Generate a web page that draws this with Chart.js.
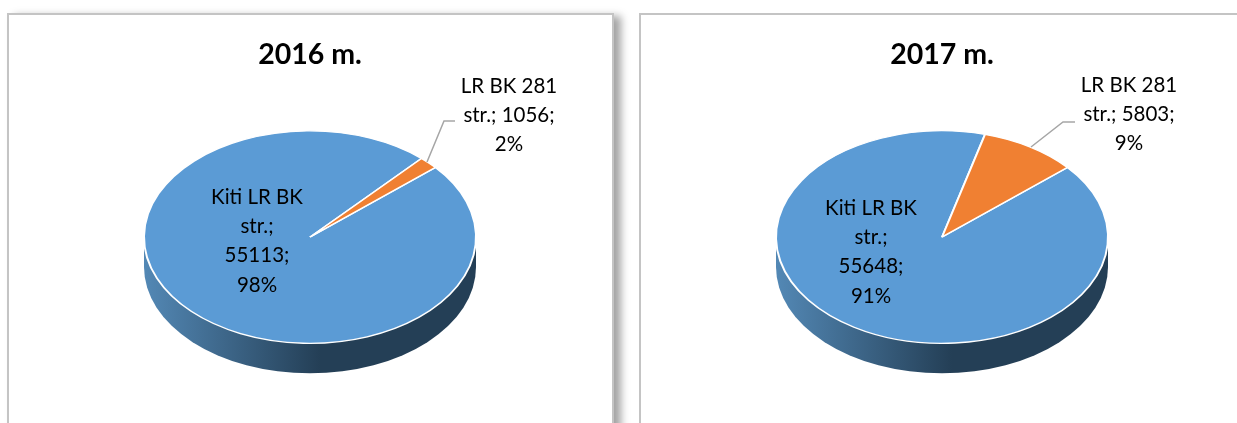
<!DOCTYPE html>
<html>
<head>
<meta charset="utf-8">
<title>LR BK 2016 - 2017</title>
<script src="https://cdn.jsdelivr.net/npm/chart.js@4/dist/chart.umd.min.js"></script>
<style>
    html, body { margin: 0; padding: 0; background: #fff; overflow: hidden; width: 1237px; height: 423px; }
    .panel { position: absolute; top: 13px; height: 460px; background: #fff; border: 2px solid #c4c4c4; box-sizing: border-box; }
    #panel2016 { left: 7px; width: 607px; box-shadow: 7px 3px 8px rgba(0, 0, 0, 0.36); }
    #panel2017 { left: 639px; width: 700px; }
    canvas { position: absolute; top: 0; }
    #chart2016 { left: 0; }
    #chart2017 { left: 620px; }
</style>
</head>
<body>
<div class="panel" id="panel2016"></div>
<div class="panel" id="panel2017"></div>
<canvas id="chart2016" width="620" height="423"></canvas>
<canvas id="chart2017" width="644" height="423"></canvas>
<script>
// Chart data
const categories = ['Kiti LR BK str.', 'LR BK 281 str.'];
const values2016 = [55113, 1056];
const values2017 = [55648, 5803];
const labels2016 = [['Kiti LR BK', 'str.;', '55113;', '98%'], ['LR BK 281', 'str.; 1056;', '2%']];
const labels2017 = [['Kiti LR BK', 'str.;', '55648;', '91%'], ['LR BK 281', 'str.; 5803;', '9%']];
const colors = ['#5b9bd5', '#f08032'];

const FONT = 'Lato, "Open Sans", sans-serif';
const TILT = 0.64;   // vertical squash of the pie
const DEPTH = 30;    // side wall height

// Squashes the arcs, draws the side wall, the data labels and leader line
const pie3d = {
    id: 'pie3d',
    beforeDatasetsDraw(chart) {
        const ctx = chart.ctx;
        const arc = chart.getDatasetMeta(0).data[0];
        const r = arc.outerRadius;
        const ry = r * TILT;

        let grad = ctx.createLinearGradient(arc.x - r, 0, arc.x + r, 0);
        grad.addColorStop(0, '#5388b5');
        grad.addColorStop(0.53, '#243f56');
        grad.addColorStop(1, '#243f56');

        ctx.save();
        ctx.beginPath();
        ctx.moveTo(arc.x - r, arc.y);
        ctx.lineTo(arc.x - r, arc.y + DEPTH);
        ctx.ellipse(arc.x, arc.y + DEPTH, r, ry, 0, Math.PI, 0, true);
        ctx.lineTo(arc.x + r, arc.y);
        ctx.closePath();
        ctx.fillStyle = grad;
        ctx.fill();
        ctx.restore();

        ctx.save();
        ctx.translate(arc.x, arc.y);
        ctx.scale(1, TILT);
        ctx.translate(-arc.x, -arc.y);
    },
    afterDatasetsDraw(chart, args, opts) {
        const ctx = chart.ctx;
        ctx.restore();

        ctx.save();
        ctx.strokeStyle = '#a6a6a6';
        ctx.lineWidth = 1.5;
        ctx.beginPath();
        opts.leader.forEach((p, i) => i ? ctx.lineTo(p[0], p[1]) : ctx.moveTo(p[0], p[1]));
        ctx.stroke();

        ctx.fillStyle = '#000';
        ctx.font = '20.5px ' + FONT;
        ctx.textAlign = 'center';
        ctx.textBaseline = 'middle';
        opts.lines.forEach((lines, i) => {
            const pos = opts.positions[i];
            lines.forEach((line, j) => ctx.fillText(line, pos[0], pos[1] + j * 29.4));
        });
        ctx.restore();
    }
};

// Builds one of the two pies
function crearPie(id, titulo, values, lines, positions, leader) {
    new Chart(document.getElementById(id), {
        type: 'pie',
        plugins: [pie3d],
        data: {
            labels: categories,
            datasets: [{
                data: values,
                backgroundColor: colors,
                borderColor: '#fff',
                borderWidth: 2,
                radius: 166,
                clip: false
            }]
        },
        options: {
            responsive: false,
            animation: false,
            rotation: 49,
            layout: { padding: { bottom: 21 } },
            plugins: {
                legend: { display: false },
                tooltip: { enabled: false },
                title: {
                    display: true,
                    text: titulo,
                    color: '#000',
                    font: { family: FONT, size: 28.5, weight: 'bold' },
                    padding: { top: 38, bottom: 0 }
                },
                pie3d: { lines, positions, leader }
            }
        }
    });
}

crearPie('chart2016', '2016 m.', values2016, labels2016,
    [[257, 197], [509, 86]],
    [[455, 121], [444, 121], [427, 162]]);
crearPie('chart2017', '2017 m.', values2017, labels2017,
    [[251, 208], [509, 85]],
    [[455, 122], [443, 122], [411, 147]]);
</script>
</body>
</html>
